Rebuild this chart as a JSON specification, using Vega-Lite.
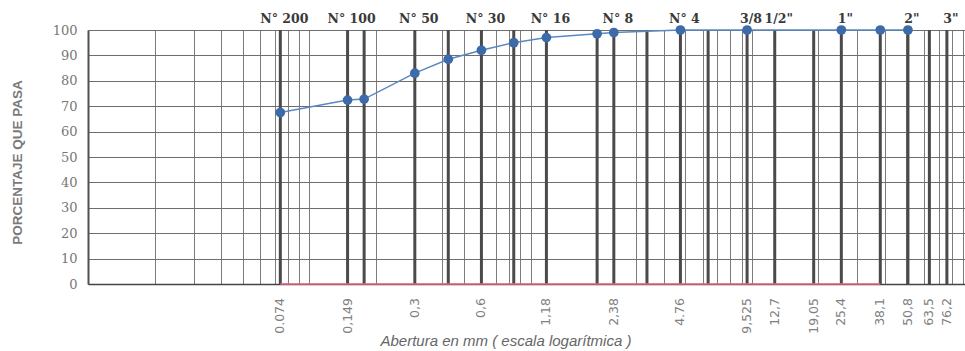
{
  "$schema": "https://vega.github.io/schema/vega-lite/v6.json",
  "width": 877,
  "height": 254,
  "autosize": {"type": "none"},
  "padding": {"left": 88, "top": 30, "right": 0, "bottom": 67},
  "background": "white",
  "config": {
    "view": {"stroke": null},
    "axisY": {
      "tickCount": 11,
      "grid": true,
      "gridColor": "#6e6e6e",
      "gridWidth": 1,
      "ticks": false,
      "domain": true,
      "domainColor": "#505050",
      "domainWidth": 2,
      "labelFont": "DejaVu Serif",
      "labelFontSize": 13,
      "labelColor": "#777777",
      "labelPadding": 11,
      "labelOverlap": false,
      "titleFont": "Liberation Sans",
      "titleFontWeight": "bold",
      "titleFontSize": 13.5,
      "titleColor": "#7a7a7a",
      "titleAngle": 270,
      "titleAlign": "center",
      "titleBaseline": "middle",
      "titleX": -71,
      "titleY": 132
    }
  },
  "datasets": {
    "sieves": [
      {"mm": 0.074, "top": "N° 200", "bottom": "0.074"},
      {"mm": 0.149, "top": "N° 100", "bottom": "0,149"},
      {"mm": 0.177},
      {"mm": 0.3, "top": "N° 50", "bottom": "0,3"},
      {"mm": 0.425},
      {"mm": 0.6, "top": "N° 30", "bottom": "0,6"},
      {"mm": 0.84},
      {"mm": 1.18, "top": "N° 16", "bottom": "1,18"},
      {"mm": 2.0},
      {"mm": 2.38, "top": "N° 8", "bottom": "2,38"},
      {"mm": 3.36},
      {"mm": 4.76, "top": "N° 4", "bottom": "4.76"},
      {"mm": 6.35},
      {"mm": 9.525, "top": "3/8", "bottom": "9,525"},
      {"mm": 12.7, "top": "1/2\"", "bottom": "12,7"},
      {"mm": 19.05, "bottom": "19,05"},
      {"mm": 25.4, "top": "1\"", "bottom": "25,4"},
      {"mm": 38.1, "bottom": "38,1"},
      {"mm": 50.8, "top": "2\"", "bottom": "50,8"},
      {"mm": 63.5, "bottom": "63,5"},
      {"mm": 76.2, "top": "3\"", "bottom": "76,2"}
    ],
    "curve": [
      {"mm": 0.074, "pct": 67.5},
      {"mm": 0.149, "pct": 72.4},
      {"mm": 0.177, "pct": 72.8},
      {"mm": 0.3, "pct": 83},
      {"mm": 0.425, "pct": 88.5},
      {"mm": 0.6, "pct": 92},
      {"mm": 0.84, "pct": 95},
      {"mm": 1.18, "pct": 97},
      {"mm": 2.0, "pct": 98.5},
      {"mm": 2.38, "pct": 99},
      {"mm": 4.76, "pct": 100},
      {"mm": 9.525, "pct": 100},
      {"mm": 25.4, "pct": 100},
      {"mm": 38.1, "pct": 100},
      {"mm": 50.8, "pct": 100}
    ],
    "base": [
      {"mm": 0.074, "pct": 0},
      {"mm": 38.1, "pct": 0}
    ]
  },
  "layer": [
    {
      "data": {"name": "curve"},
      "mark": {"type": "point", "opacity": 0},
      "encoding": {
        "x": {
          "field": "mm",
          "type": "quantitative",
          "scale": {"type": "log", "domain": [0.01, 92], "nice": false},
          "axis": {
            "values": [0.01, 0.02, 0.03, 0.04, 0.05, 0.06, 0.07, 0.08, 0.09,
                       0.1, 0.2, 0.3, 0.4, 0.5, 0.6, 0.7, 0.8, 0.9,
                       1, 2, 3, 4, 5, 6, 7, 8, 9,
                       10, 20, 30, 40, 50, 60, 70, 80, 90],
            "grid": true,
            "gridColor": "#7c7c7c",
            "gridWidth": 1,
            "labels": false,
            "ticks": false,
            "domain": true,
            "domainColor": "#444444",
            "domainWidth": 1.5,
            "title": "Abertura en mm  ( escala logarítmica )",
            "titleFont": "Liberation Sans",
            "titleFontStyle": "italic",
            "titleFontWeight": "normal",
            "titleFontSize": 15,
            "titleColor": "#666666",
            "titleAlign": "left",
            "titleBaseline": "alphabetic",
            "titleX": 292,
            "titleY": 61
          }
        },
        "y": {
          "field": "pct",
          "type": "quantitative",
          "scale": {"domain": [0, 100], "nice": false},
          "axis": {"values": [0, 10, 20, 30, 40, 50, 60, 70, 80, 90, 100], "title": "PORCENTAJE QUE PASA"}
        }
      }
    },
    {
      "data": {"name": "sieves"},
      "mark": {"type": "rule", "color": "#4a4a4a", "strokeWidth": 3},
      "encoding": {
        "x": {"field": "mm", "type": "quantitative"}
      }
    },
    {
      "data": {"name": "sieves"},
      "transform": [{"filter": "datum.top"}],
      "mark": {
        "type": "text",
        "font": "DejaVu Serif",
        "fontWeight": "bold",
        "fontSize": 12.5,
        "color": "#3a3a3a",
        "align": "center",
        "baseline": "alphabetic",
        "xOffset": 4,
        "yOffset": -7
      },
      "encoding": {
        "x": {"field": "mm", "type": "quantitative"},
        "y": {"datum": 100, "type": "quantitative",
              "axis": {"values": [0, 10, 20, 30, 40, 50, 60, 70, 80, 90, 100], "title": "PORCENTAJE QUE PASA"}},
        "text": {"field": "top"}
      }
    },
    {
      "data": {"name": "sieves"},
      "transform": [{"filter": "datum.bottom"}],
      "mark": {
        "type": "text",
        "font": "DejaVu Sans",
        "fontSize": 12.5,
        "color": "#808080",
        "angle": 270,
        "align": "right",
        "baseline": "middle",
        "yOffset": 14
      },
      "encoding": {
        "x": {"field": "mm", "type": "quantitative"},
        "y": {"datum": 0, "type": "quantitative",
              "axis": {"values": [0, 10, 20, 30, 40, 50, 60, 70, 80, 90, 100], "title": "PORCENTAJE QUE PASA"}},
        "text": {"field": "bottom"}
      }
    },
    {
      "data": {"name": "base"},
      "mark": {"type": "line", "color": "#ec6482", "strokeWidth": 1.5},
      "encoding": {
        "x": {"field": "mm", "type": "quantitative"},
        "y": {"field": "pct", "type": "quantitative",
              "axis": {"values": [0, 10, 20, 30, 40, 50, 60, 70, 80, 90, 100], "title": "PORCENTAJE QUE PASA"}}
      }
    },
    {
      "data": {"name": "curve"},
      "mark": {
        "type": "line",
        "color": "#5a88c4",
        "strokeWidth": 1.5,
        "point": {"filled": true, "size": 95, "color": "#3d6aa8", "opacity": 1}
      },
      "encoding": {
        "x": {"field": "mm", "type": "quantitative"},
        "y": {"field": "pct", "type": "quantitative",
              "axis": {"values": [0, 10, 20, 30, 40, 50, 60, 70, 80, 90, 100], "title": "PORCENTAJE QUE PASA"}}
      }
    }
  ]
}
